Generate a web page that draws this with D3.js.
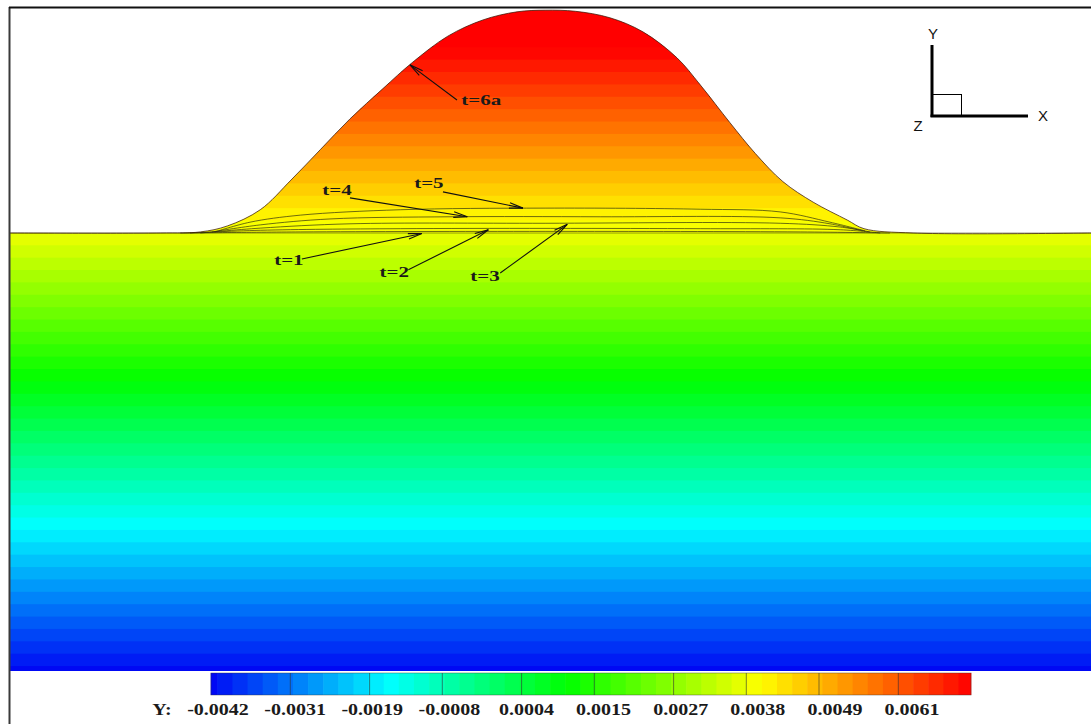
<!DOCTYPE html>
<html>
<head>
<meta charset="utf-8">
<script src="https://cdn.jsdelivr.net/npm/d3@7"></script>
<style>
  html, body { margin: 0; padding: 0; background: #ffffff; }
  svg { display: block; }
</style>
</head>
<body>
<svg id="chart" width="1091" height="724"></svg>
<script>
// ---- Contour levels of Y and the colour map ----
const legendTicks = [-0.0042, -0.0031, -0.0019, -0.0008, 0.0004, 0.0015, 0.0027, 0.0038, 0.0049, 0.0061];
const legendLabels = ["-0.0042", "-0.0031", "-0.0019", "-0.0008", "0.0004", "0.0015", "0.0027", "0.0038", "0.0049", "0.0061"];
const colorStops = [-0.0043, -0.0016, 0.0011, 0.0040, 0.0072];
const colorHex = ["#0008f4", "#00ffff", "#00ff00", "#ffff00", "#ff0000"];
const subLevels = 5;              // flood bands between two labelled levels
const fieldBottom = -0.0043;      // lowest Y of the domain
const surfaceLevel = 0.0038;      // undisturbed free surface

// ---- Free-surface profiles (X, Y) ----
const profileT6a = [
  [-0.0099, 0.00380], [-0.00712, 0.00380], [-0.00638, 0.00382], [-0.00588, 0.00393],
  [-0.00527, 0.00423], [-0.00470, 0.00478], [-0.00416, 0.00534], [-0.00361, 0.00591],
  [-0.00300, 0.00647], [-0.00246, 0.00695], [-0.00180, 0.00744], [-0.00115, 0.00774],
  [-0.00052, 0.00789], [0, 0.00792], [0.00056, 0.00790], [0.00120, 0.00778],
  [0.00181, 0.00752], [0.00244, 0.00704], [0.00287, 0.00654], [0.00342, 0.00584],
  [0.00389, 0.00527], [0.00440, 0.00475], [0.00496, 0.00437], [0.00559, 0.00404],
  [0.00590, 0.00388], [0.00681, 0.00380], [0.0101, 0.00380]
];
const profileT5 = [
  [-0.00611, 0.00382], [-0.00546, 0.00400], [-0.00453, 0.00413], [-0.00268, 0.00423],
  [0, 0.00426], [0.00287, 0.00424], [0.00435, 0.00419], [0.00527, 0.00400], [0.00592, 0.00384]
];
const profileT4 = [
  [-0.00616, 0.00382], [-0.00527, 0.00395], [-0.00398, 0.00406], [-0.00176, 0.00410],
  [0.00102, 0.00410], [0.00435, 0.00408], [0.00527, 0.00397], [0.00587, 0.00384]
];
const profileT3 = [
  [-0.00638, 0.00380], [-0.00527, 0.00389], [-0.00361, 0.00397], [0, 0.00398],
  [0.00435, 0.00398], [0.00546, 0.00391], [0.00601, 0.00382]
];
const profileT2 = [
  [-0.00657, 0.00380], [-0.00527, 0.00385], [-0.00268, 0.00388],
  [0.00287, 0.00388], [0.00546, 0.00386], [0.00620, 0.00380]
];
const profileT1 = [
  [-0.00675, 0.00380], [-0.00453, 0.00382], [0, 0.00383], [0.00472, 0.00382], [0.00638, 0.00380]
];

// ---- Time labels: text, label centre (X, Y), arrow tail, arrow tip ----
const annoText = ["t=6a", "t=4", "t=5", "t=1", "t=2", "t=3"];
const annoLabel = [[-0.00118, 0.00626], [-0.00385, 0.00460], [-0.00215, 0.00472], [-0.00474, 0.00330], [-0.00279, 0.00308], [-0.00111, 0.00300]];
const annoTail = [[-0.00163, 0.00626], [-0.00361, 0.00445], [-0.00189, 0.00456], [-0.00450, 0.00332], [-0.00253, 0.00312], [-0.00083, 0.00306]];
const annoTip = [[-0.00250, 0.00691], [-0.00144, 0.00410], [-0.00041, 0.00426], [-0.00228, 0.00379], [-0.00105, 0.00386], [0.00041, 0.00396]];

// ---- Scales ----
const x = d3.scaleLinear().domain([-0.0099, 0.0101]).range([10, 1091]);
const y = d3.scaleLinear().domain([fieldBottom, surfaceLevel]).range([671, 233]);
const color = d3.scaleLinear().domain(colorStops).range(colorHex)
  .interpolate(d3.interpolateRgb).clamp(true);
const legendX = d3.scaleLinear().domain([-0.0043, 0.0072]).range([211, 971]);
const labelX = d3.scalePoint().domain(legendLabels).range([218, 912]);

// Flood levels: labelled levels subdivided into equal steps
const step = (legendTicks[legendTicks.length - 1] - legendTicks[0]) / (legendTicks.length - 1) / subLevels;
const levels = d3.range(-2, 12 * subLevels).map(k => legendTicks[0] + k * step);

const svg = d3.select("#chart");
const defs = svg.append("defs");
const smooth = d3.curveCatmullRom.alpha(0.5);

// Domain below the free surface (t=6a)
const area = d3.area()
  .x(d => x(d[0]))
  .y0(y(fieldBottom))
  .y1(d => y(d[1]))
  .curve(smooth);
defs.append("clipPath").attr("id", "fluid")
  .append("path").attr("d", area(profileT6a));

// Banded flood of Y
const flood = svg.append("g").attr("clip-path", "url(#fluid)");
for (let i = 0; i < levels.length - 1; i++) {
  const lo = levels[i], hi = levels[i + 1];
  const top = y(hi), bot = y(lo);
  flood.append("rect")
    .attr("x", x.range()[0])
    .attr("width", x.range()[1] - x.range()[0])
    .attr("y", top - 0.5)
    .attr("height", bot - top + 1)
    .attr("fill", color((lo + hi) / 2));
}

// Undisturbed surface line
svg.append("line")
  .attr("x1", x.range()[0]).attr("x2", x.range()[1])
  .attr("y1", y(surfaceLevel)).attr("y2", y(surfaceLevel))
  .attr("stroke", "#3a3a10").attr("stroke-width", 0.9).attr("opacity", 0.55);

// Free-surface lines at successive times
const line = d3.line().x(d => x(d[0])).y(d => y(d[1])).curve(smooth);
[profileT1, profileT2, profileT3, profileT4, profileT5].forEach(p => {
  svg.append("path").attr("d", line(p))
    .attr("fill", "none").attr("stroke", "#2a2a10")
    .attr("stroke-width", 0.8).attr("opacity", 0.85);
});
svg.append("path").attr("d", line(profileT6a))
  .attr("fill", "none").attr("stroke", "#3a1a08").attr("stroke-width", 1).attr("opacity", 0.75);

// Wide bold serif text, as the plotting package draws it
function wideText(g, px, py, str, size, sx, anchor) {
  g.append("text")
    .attr("transform", `translate(${px},${py}) scale(${sx},1)`)
    .attr("text-anchor", anchor || "middle")
    .attr("font-family", "'Liberation Serif', 'Times New Roman', serif")
    .attr("font-weight", "bold").attr("font-size", size).attr("fill", "#1a1a1a")
    .text(str);
}

// Arrows with open heads and their labels
const notes = svg.append("g");
annoText.forEach((t, i) => {
  const [tx, ty] = [x(annoTail[i][0]), y(annoTail[i][1])];
  const [hx, hy] = [x(annoTip[i][0]), y(annoTip[i][1])];
  notes.append("line").attr("x1", tx).attr("y1", ty).attr("x2", hx).attr("y2", hy)
    .attr("stroke", "#111").attr("stroke-width", 1.1);
  const ang = Math.atan2(ty - hy, tx - hx);
  const len = 14, spread = 0.2;
  [-spread, spread].forEach(s => {
    notes.append("line")
      .attr("x1", hx).attr("y1", hy)
      .attr("x2", hx + len * Math.cos(ang + s)).attr("y2", hy + len * Math.sin(ang + s))
      .attr("stroke", "#111").attr("stroke-width", 1.1);
  });
  wideText(notes, x(annoLabel[i][0]), y(annoLabel[i][1]) + 5, t, 15, 1.4);
});

// Frame
svg.append("line").attr("x1", 9.5).attr("x2", 9.5).attr("y1", 7).attr("y2", 724)
  .attr("stroke", "#3a3a3a").attr("stroke-width", 2);
svg.append("line").attr("x1", 9).attr("x2", 1091).attr("y1", 7.5).attr("y2", 7.5)
  .attr("stroke", "#111").attr("stroke-width", 2);

// Axis triad
const triad = svg.append("g").attr("stroke", "#000").attr("fill", "none");
triad.append("line").attr("x1", 932).attr("y1", 45).attr("x2", 932).attr("y2", 117).attr("stroke-width", 3);
triad.append("line").attr("x1", 930.5).attr("y1", 116).attr("x2", 1028).attr("y2", 116).attr("stroke-width", 3);
triad.append("rect").attr("x", 932).attr("y", 94.5).attr("width", 29.5).attr("height", 21.5).attr("stroke-width", 1);
const triadText = svg.append("g")
  .attr("font-family", "'Liberation Sans', Arial, sans-serif").attr("font-size", 15).attr("fill", "#111")
  .attr("text-anchor", "middle");
triadText.append("text").attr("x", 933).attr("y", 39).text("Y");
triadText.append("text").attr("x", 1043).attr("y", 121).text("X");
triadText.append("text").attr("x", 918).attr("y", 131).text("Z");

// Colour legend
const legend = svg.append("g");
const barTop = 673, barH = 22;
for (let i = 0; i < levels.length - 1; i++) {
  const lo = Math.max(levels[i], legendX.domain()[0]);
  const hi = Math.min(levels[i + 1], legendX.domain()[1]);
  if (hi <= lo) continue;
  legend.append("rect")
    .attr("x", legendX(lo) - 0.3).attr("width", legendX(hi) - legendX(lo) + 0.6)
    .attr("y", barTop).attr("height", barH)
    .attr("fill", color((levels[i] + levels[i + 1]) / 2));
}
legendTicks.slice(1).forEach(v => {
  legend.append("line").attr("x1", legendX(v)).attr("x2", legendX(v))
    .attr("y1", barTop).attr("y2", barTop + barH)
    .attr("stroke", "#333").attr("stroke-width", 1).attr("opacity", 0.6);
});
legend.append("rect").attr("x", legendX.range()[0]).attr("y", barTop)
  .attr("width", legendX.range()[1] - legendX.range()[0]).attr("height", barH)
  .attr("fill", "none").attr("stroke", "#333").attr("stroke-width", 0.8).attr("opacity", 0.5);

const legendText = svg.append("g");
wideText(legendText, 162, 715, "Y:", 16, 1.25);
legendLabels.forEach(d => wideText(legendText, labelX(d), 715, d, 16, 1.25));
</script>
</body>
</html>
